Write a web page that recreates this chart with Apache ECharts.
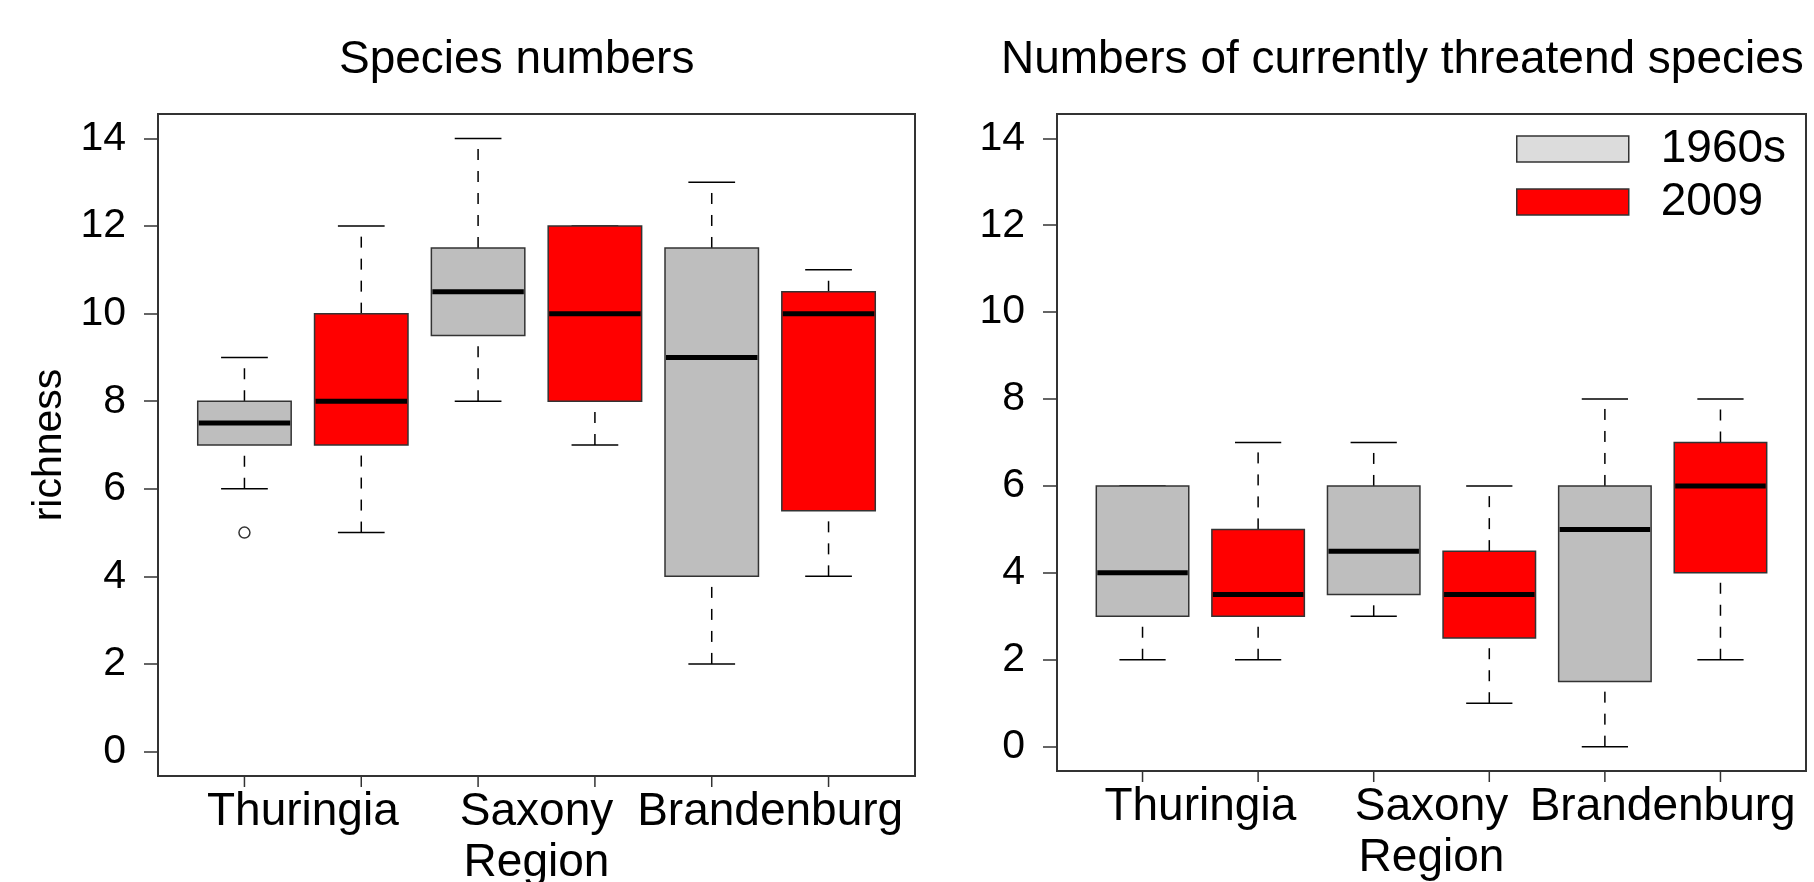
<!DOCTYPE html>
<html>
<head>
<meta charset="utf-8">
<script src="https://cdn.jsdelivr.net/npm/echarts@6/dist/echarts.min.js"></script>
<style>
html,body{margin:0;padding:0;background:#fff;}
#chart{width:1814px;height:882px;}
</style>
</head>
<body>
<div id="chart"></div>
<script>
// ---------------- data ----------------
const regions = ['Thuringia', 'Saxony', 'Brandenburg'];
const years = ['1960s', '2009'];
const yTicks = [0, 2, 4, 6, 8, 10, 12, 14];
const xTicks = [1, 2, 3, 4, 5, 6];
// [lower whisker, Q1, median, Q3, upper whisker] per region
const species1960s = [[6, 7, 7.5, 8, 9], [8, 9.5, 10.5, 11.5, 14], [2, 4, 9, 11.5, 13]];
const species2009 = [[5, 7, 8, 10, 12], [7, 8, 10, 12, 12], [4, 5.5, 10, 10.5, 11]];
const species1960sOutliers = [[0, 5]]; // [region index, value]
const threat1960s = [[2, 3, 4, 6, 6], [3, 3.5, 4.5, 6, 7], [0, 1.5, 5, 6, 8]];
const threat2009 = [[2, 3, 3.5, 5, 7], [1, 2.5, 3.5, 4.5, 6], [2, 4, 6, 7, 8]];
const titles = ['Species numbers', 'Numbers of currently threatend species'];

// ---------------- style ----------------
const FONT = "'Liberation Sans', Arial, sans-serif";
const colors = { '1960s': '#bebebe', '2009': '#ff0000' };
const legendColors = { '1960s': '#dcdcdc', '2009': '#ff0000' };
const frameColor = '#333';
const Y_MIN = -0.56, Y_MAX = 14.56, X_MIN = 0.26, X_MAX = 6.74;

function boxData(stats, yearIdx) {
  return stats.map((s, i) => [2 * i + 1 + yearIdx].concat(s));
}

function renderBox(params, api) {
  const x = api.value(0);
  const lo = api.value(1), q1 = api.value(2), md = api.value(3), q3 = api.value(4), hi = api.value(5);
  const w = api.size([0.8, 0])[0];
  const cw = w / 2;
  const pLo = api.coord([x, lo]);
  const pQ1 = api.coord([x, q1]);
  const pMd = api.coord([x, md]);
  const pQ3 = api.coord([x, q3]);
  const pHi = api.coord([x, hi]);
  const cx = pLo[0];
  const fill = api.visual('color');
  const dash = { stroke: '#000', lineWidth: 1.5, lineDash: [11, 11] };
  const solid = { stroke: '#000', lineWidth: 1.5 };
  return {
    type: 'group',
    children: [
      { type: 'line', shape: { x1: cx, y1: pLo[1], x2: cx, y2: pQ1[1] }, style: dash },
      { type: 'line', shape: { x1: cx, y1: pQ3[1], x2: cx, y2: pHi[1] }, style: dash },
      { type: 'line', shape: { x1: cx - cw / 2, y1: pLo[1], x2: cx + cw / 2, y2: pLo[1] }, style: solid },
      { type: 'line', shape: { x1: cx - cw / 2, y1: pHi[1], x2: cx + cw / 2, y2: pHi[1] }, style: solid },
      { type: 'rect', shape: { x: cx - w / 2, y: pQ3[1], width: w, height: pQ1[1] - pQ3[1] },
        style: { fill: fill, stroke: frameColor, lineWidth: 1.5 } },
      { type: 'line', shape: { x1: cx - w / 2 + 1, y1: pMd[1], x2: cx + w / 2 - 1, y2: pMd[1] },
        style: { stroke: '#000', lineWidth: 5 } }
    ]
  };
}

// x-axis tick marks, placed through the axis scale, pointing outward below the frame
function renderXTick(params, api) {
  const p = api.coord([api.value(0), Y_MIN]);
  return { type: 'line', shape: { x1: p[0], y1: p[1] + 1, x2: p[0], y2: p[1] + 11 },
    style: { stroke: frameColor, lineWidth: 1.5 } };
}

const grids = [
  { left: 158, right: 899, top: 114, bottom: 106 },
  { left: 1057, right: 8, top: 114, bottom: 111 }
].map(g => Object.assign(g, {
  show: true, borderColor: frameColor, borderWidth: 2, backgroundColor: 'transparent',
  containLabel: false, outerBoundsMode: 'none'
}));

function xAxisFor(i) {
  return {
    type: 'value', gridIndex: i, min: X_MIN, max: X_MAX, position: 'bottom',
    axisLine: { show: false, onZero: false }, splitLine: { show: false },
    axisTick: { show: false },
    axisLabel: {
      show: true, customValues: [1.5, 3.5, 5.5], margin: 13,
      formatter: v => regions[Math.round((v - 1.5) / 2)],
      fontSize: 46, color: '#000', fontFamily: FONT
    },
    name: 'Region', nameLocation: 'middle', nameGap: 64,
    nameTextStyle: { fontSize: 46, color: '#000', fontFamily: FONT }
  };
}
function yAxisFor(i) {
  const ax = {
    type: 'value', gridIndex: i, min: Y_MIN, max: Y_MAX, position: 'left',
    axisLine: { show: false, onZero: false }, splitLine: { show: false },
    axisTick: { show: true, inside: false, customValues: yTicks, length: 14, lineStyle: { color: frameColor, width: 1.5 } },
    axisLabel: { show: true, customValues: yTicks, margin: 32, fontSize: 41, color: '#000', fontFamily: FONT }
  };
  if (i === 0) {
    ax.name = 'richness';
    ax.nameLocation = 'middle';
    ax.nameRotate = 90;
    ax.nameGap = 88;
    ax.nameTextStyle = { fontSize: 41, color: '#000', fontFamily: FONT };
  }
  return ax;
}

const panelData = [[species1960s, species2009], [threat1960s, threat2009]];
const series = [];
panelData.forEach((pair, p) => {
  pair.forEach((stats, yi) => {
    series.push({
      name: years[yi], type: 'custom', xAxisIndex: p, yAxisIndex: p,
      renderItem: renderBox,
      itemStyle: { color: colors[years[yi]], borderColor: frameColor, borderWidth: 1.5 },
      encode: { x: 0, y: [1, 2, 3, 4, 5] },
      data: boxData(stats, yi),
      z: 3
    });
  });
  series.push({
    name: 'xticks' + p, type: 'custom', xAxisIndex: p, yAxisIndex: p,
    renderItem: renderXTick, clip: false, silent: true,
    encode: { x: 0 },
    data: xTicks.map(v => [v]),
    z: 5
  });
});
series.push({
  name: 'outliers', type: 'scatter', xAxisIndex: 0, yAxisIndex: 0,
  symbol: 'circle', symbolSize: 11,
  itemStyle: { color: '#fff', borderColor: '#000', borderWidth: 1.5 },
  data: species1960sOutliers.map(o => [2 * o[0] + 1, o[1]]),
  z: 4
});

const option = {
  backgroundColor: '#fff',
  animation: false,
  title: [
    { text: titles[0], left: 339, top: 37, padding: 0,
      textStyle: { fontSize: 46, fontWeight: 'normal', color: '#000', fontFamily: FONT } },
    { text: titles[1], left: 1001, top: 37, padding: 0,
      textStyle: { fontSize: 46, fontWeight: 'normal', color: '#000', fontFamily: FONT } }
  ],
  legend: {
    data: years.map(y => ({ name: y, itemStyle: { color: legendColors[y], borderColor: frameColor, borderWidth: 1.5 } })),
    orient: 'vertical', left: 1516, top: 126, padding: 0,
    itemWidth: 112, itemHeight: 26, itemGap: 7,
    icon: 'path://M0,0H112V26H0Z', symbolKeepAspect: false,
    selectedMode: false,
    textStyle: { fontSize: 46, lineHeight: 46, color: '#000', fontFamily: FONT, padding: [0, 0, 0, 27] }
  },
  grid: grids,
  xAxis: [xAxisFor(0), xAxisFor(1)],
  yAxis: [yAxisFor(0), yAxisFor(1)],
  series: series
};

const chart = echarts.init(document.getElementById('chart'), null, { renderer: 'canvas' });
chart.setOption(option);
</script>
</body>
</html>
